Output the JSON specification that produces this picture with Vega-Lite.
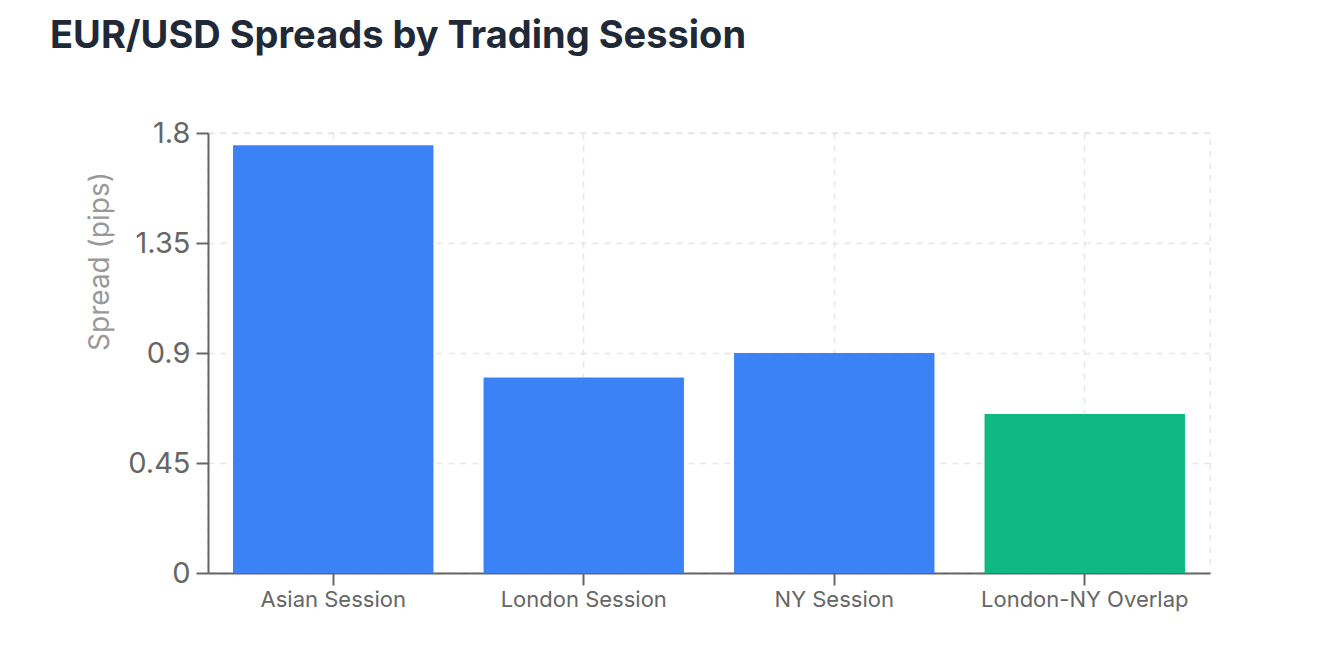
{
  "$schema": "https://vega.github.io/schema/vega-lite/v6.json",
  "autosize": "none",
  "width": 1002,
  "height": 440,
  "padding": {"left": 208, "top": 133, "right": 108, "bottom": 90},
  "background": "white",
  "config": {
    "font": "Inter",
    "view": {"stroke": "#e5e7eb", "strokeDash": [6, 6], "strokeWidth": 1.5}
  },
  "title": {
    "text": "EUR/USD Spreads by Trading Session",
    "anchor": "start",
    "frame": "group",
    "font": "Inter",
    "fontSize": 38,
    "fontWeight": 700,
    "color": "#1f2937",
    "dx": -158,
    "offset": 63
  },
  "data": {
    "values": [
      {"session": "Asian Session", "spread": 1.75},
      {"session": "London Session", "spread": 0.8},
      {"session": "NY Session", "spread": 0.9},
      {"session": "London-NY Overlap", "spread": 0.65}
    ]
  },
  "mark": {"type": "bar"},
  "encoding": {
    "x": {
      "field": "session",
      "type": "nominal",
      "sort": null,
      "scale": {"paddingInner": 0.2, "paddingOuter": 0.1},
      "axis": {
        "title": null,
        "labelAngle": 0,
        "labelFontSize": 22,
        "labelLimit": 0,
        "labelColor": "#666666",
        "labelPadding": 4,
        "tickSize": 12,
        "tickColor": "#666666",
        "tickWidth": 2,
        "domainColor": "#666666",
        "domainWidth": 2,
        "grid": true,
        "gridColor": "#e5e7eb",
        "gridDash": [6, 6],
        "gridWidth": 1.5
      }
    },
    "y": {
      "field": "spread",
      "type": "quantitative",
      "scale": {"domain": [0, 1.8], "nice": false},
      "axis": {
        "values": [0, 0.45, 0.9, 1.35, 1.8],
        "labelExpr": "'' + datum.value",
        "title": "Spread (pips)",
        "titleFontSize": 28,
        "titleFontWeight": 400,
        "titleColor": "#999999",
        "titleX": -108,
        "titleY": 128,
        "titleAlign": "center",
        "titleBaseline": "middle",
        "titleAngle": 270,
        "labelFontSize": 29,
        "labelColor": "#666666",
        "labelPadding": 6,
        "tickSize": 12,
        "tickColor": "#666666",
        "tickWidth": 2,
        "domainColor": "#666666",
        "domainWidth": 2,
        "grid": true,
        "gridColor": "#e5e7eb",
        "gridDash": [6, 6],
        "gridWidth": 1.5
      }
    },
    "color": {
      "field": "session",
      "type": "nominal",
      "scale": {
        "domain": ["Asian Session", "London Session", "NY Session", "London-NY Overlap"],
        "range": ["#3b82f6", "#3b82f6", "#3b82f6", "#10b981"]
      },
      "legend": null
    }
  }
}
